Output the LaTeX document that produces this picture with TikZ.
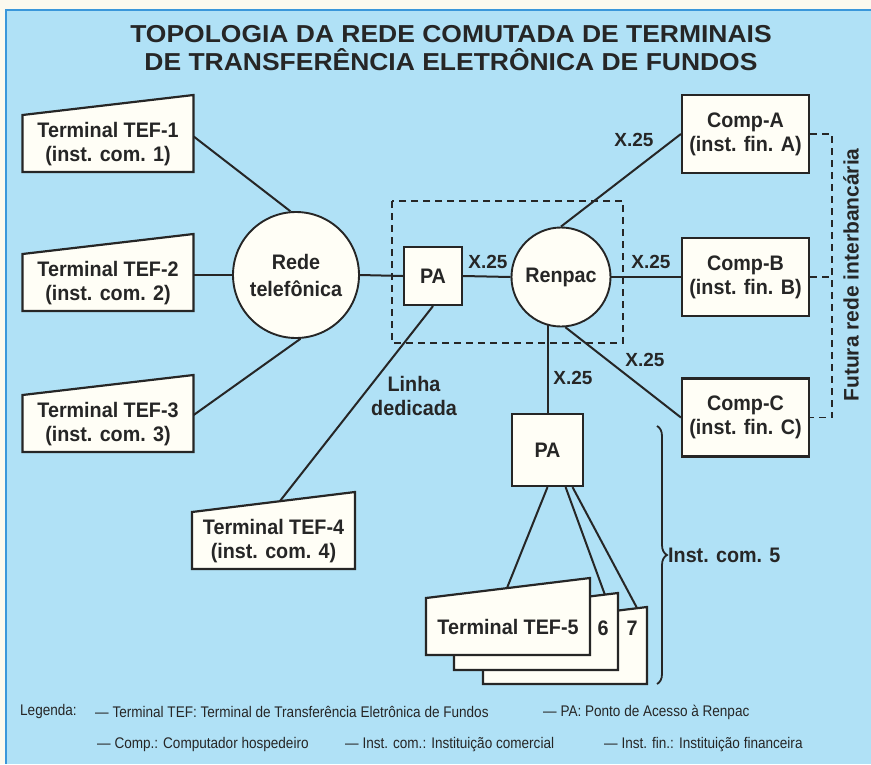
\documentclass[tikz,border=0pt]{standalone}
\usepackage{fontspec}
\setmainfont{Liberation Sans}
\newfontfamily\condfont{Liberation Sans}[FakeStretch=0.94]
\newfontfamily\legfont{Liberation Sans}[FakeStretch=0.88]
\newfontfamily\widefont{Liberation Sans}[FakeStretch=1.08]
\usetikzlibrary{calc,decorations.pathreplacing}
\definecolor{rdBlue}{HTML}{B0E1F6}
\definecolor{rdFrame}{HTML}{3A97DA}
\definecolor{rdPaper}{HTML}{FBF9EE}
\definecolor{rdBox}{HTML}{FFFEF6}
\definecolor{rdInk}{HTML}{262626}
\pgfdeclarelayer{bg}
\pgfdeclarelayer{wires}
\pgfsetlayers{bg,wires,main}
\newcommand{\tefnodefont}{\condfont\bfseries\fontsize{21}{24}\selectfont}
\newcommand{\xlabelfont}{\bfseries\fontsize{19}{22}\selectfont}
\newcommand{\legtextfont}{\legfont\fontsize{15.4}{18}\selectfont}
\newcommand{\topotitlefont}{\widefont\bfseries\fontsize{24.5}{28}\selectfont}
% slanted terminal card round a centre: #1 centre, #2 half width
\newcommand{\tefcard}[2]{\filldraw[cardline] ($(#1)+(-#2,28)$) -- ($(#1)+(#2,28)$) -- ($(#1)+(#2,-49)$) -- ($(#1)+(-#2,-29)$) -- cycle;}

\begin{document}
\begin{tikzpicture}[x=1pt, y=-1pt,
    wire/.style={draw=rdInk, line width=2pt},
    dashline/.style={draw=rdInk, line width=1.5pt, dash pattern=on 7pt off 5pt},
    cardline/.style={draw=rdInk, fill=rdBox, line width=2.2pt},
    tefnode/.style={inner sep=0pt, minimum height=56pt, align=center, font=\tefnodefont, text=rdInk},
    compbox/.style={draw=rdInk, fill=rdBox, line width=2.2pt, minimum width=127pt, minimum height=78pt, inner sep=0pt, align=center, font=\tefnodefont, text=rdInk},
    pabox/.style={compbox, minimum width=58pt, minimum height=58pt},
    netcircle/.style={circle, draw=rdInk, fill=rdBox, line width=1.9pt, inner sep=0pt, align=center, font=\tefnodefont, text=rdInk},
    linklabel/.style={font=\xlabelfont, text=rdInk, inner sep=1pt},
    legend/.style={anchor=west, font=\legtextfont, text=rdInk, inner sep=0pt}]
\useasboundingbox (0,0) rectangle (871,764);
\begin{pgfonlayer}{bg}
    \fill[rdPaper] (0,0) rectangle (871,764);
    \fill[rdBlue] (6,10) rectangle (871,764);
    \draw[rdFrame, line width=2pt] (871,10) -- (6,10) -- (6,764);
\end{pgfonlayer}

\node[font=\topotitlefont, text=rdInk, align=center] (title) at (451,48)
    {TOPOLOGIA DA REDE COMUTADA DE TERMINAIS\\DE TRANSFERÊNCIA ELETRÔNICA DE FUNDOS};

% terminais comerciais
\coordinate (c1) at (108,144);
\coordinate (c2) at (108,283);
\coordinate (c3) at (108,424);
\coordinate (c4) at (273.5,541);
\tefcard{c1}{85.5}
\tefcard{c2}{85.5}
\tefcard{c3}{85.5}
\tefcard{c4}{81.5}
\node[tefnode, minimum width=171pt] (t1) at (c1) {Terminal TEF-1\\(inst. com. 1)};
\node[tefnode, minimum width=171pt] (t2) at (c2) {Terminal TEF-2\\(inst. com. 2)};
\node[tefnode, minimum width=171pt] (t3) at (c3) {Terminal TEF-3\\(inst. com. 3)};
\node[tefnode, minimum width=163pt] (t4) at (c4) {Terminal TEF-4\\(inst. com. 4)};
\coordinate (t4top) at (280,501);

% terminais 5, 6 e 7
\coordinate (c7) at (565,656);
\coordinate (c6) at (536,642);
\coordinate (c5) at (508,627);
\tefcard{c7}{82}
\tefcard{c6}{82}
\tefcard{c5}{82}
\node[tefnode, minimum width=164pt] (t5) at (c5) {Terminal TEF-5};
\node[tefnode] (t6) at (603,628) {6};
\node[tefnode] (t7) at (632,628) {7};
\coordinate (t5top) at (507,588);
\coordinate (t6top) at (605,595);
\coordinate (t7top) at (637,608);

% redes e pontos de acesso
\node[netcircle, minimum size=126pt] (rt) at (296,275) {Rede\\[3pt]telefônica};
\node[pabox] (pa1) at (433,276) {PA};
\node[netcircle, minimum size=99pt] (ren) at (561,277) {Renpac};
\node[pabox, minimum width=71pt, minimum height=72pt] (pa2) at (547.5,450) {PA};
\draw[dashline] (392,201) rectangle (623,343);

% computadores das instituições financeiras
\node[compbox] (compA) at (745.5,134) {Comp-A\\(inst. fin. A)};
\node[compbox] (compB) at (745.5,277) {Comp-B\\(inst. fin. B)};
\node[compbox] (compC) at (745.5,417.5) {Comp-C\\(inst. fin. C)};

\begin{pgfonlayer}{wires}
    \draw[wire] (t1.5) -- (rt.95);
    \draw[wire] (t2.east |- rt.west) -- (rt.west);
    \draw[wire] (t3.6) -- (rt.274);
    \draw[wire] (rt.east) -- (pa1.west);
    \draw[wire] (pa1.east) -- (ren.west);
    \draw[wire] (pa1.south) -- (t4top);
    \draw[wire] (ren.north) -- (compA.west);
    \draw[wire] (ren.east) -- (compB.west);
    \draw[wire] (ren.-85) -- (compC.west);
    \draw[wire] (pa2.north) -- (pa2.north |- ren.center);
    \draw[wire] (pa2.south) -- (t5top);
    \draw[wire] (pa2.-64) -- (t6top);
    \draw[wire] (pa2.-56) -- (t7top);
\end{pgfonlayer}

\node[linklabel] (x1) at (488,262) {X.25};
\node[linklabel] (x2) at (651,262) {X.25};
\node[linklabel] (x3) at (634,140) {X.25};
\node[linklabel] (x4) at (645,360) {X.25};
\node[linklabel] (x5) at (573,378) {X.25};
\node[tefnode, minimum height=0pt] (ded) at (414,396) {Linha\\dedicada};

% futura rede interbancária
\coordinate (futA) at ($(compA.east)+(22,0)$);
\draw[dashline] (compA.east) -- (futA) |- (compC.east);
\draw[dashline] (compB.east) -- (compB.east -| futA);
\node[rotate=90, font=\bfseries\fontsize{21}{24}\selectfont, text=rdInk] (fut) at (851,275) {Futura rede interbancária};

% chave das inst. com. 5
\coordinate (brTop) at (657,426);
\coordinate (brBot) at (657,684);
\draw[rdInk, line width=1.8pt, decorate, decoration={brace, amplitude=10pt}] (brTop) -- (brBot);
\node[tefnode, anchor=west, minimum height=0pt] (ic5) at (668,555) {Inst. com. 5};

% legenda
\node[legend] (leg) at (20,712) {Legenda:};
\node[legend] (leg1) at (95,712) {— Terminal TEF: Terminal de Transferência Eletrônica de Fundos};
\node[legend] (leg2) at (543,712) {— PA: Ponto de Acesso à Renpac};
\node[legend] (leg3) at (97,745) {— Comp.: Computador hospedeiro};
\node[legend] (leg4) at (345,745) {— Inst. com.: Instituição comercial};
\node[legend] (leg5) at (604,745) {— Inst. fin.: Instituição financeira};
\end{tikzpicture}
\end{document}
